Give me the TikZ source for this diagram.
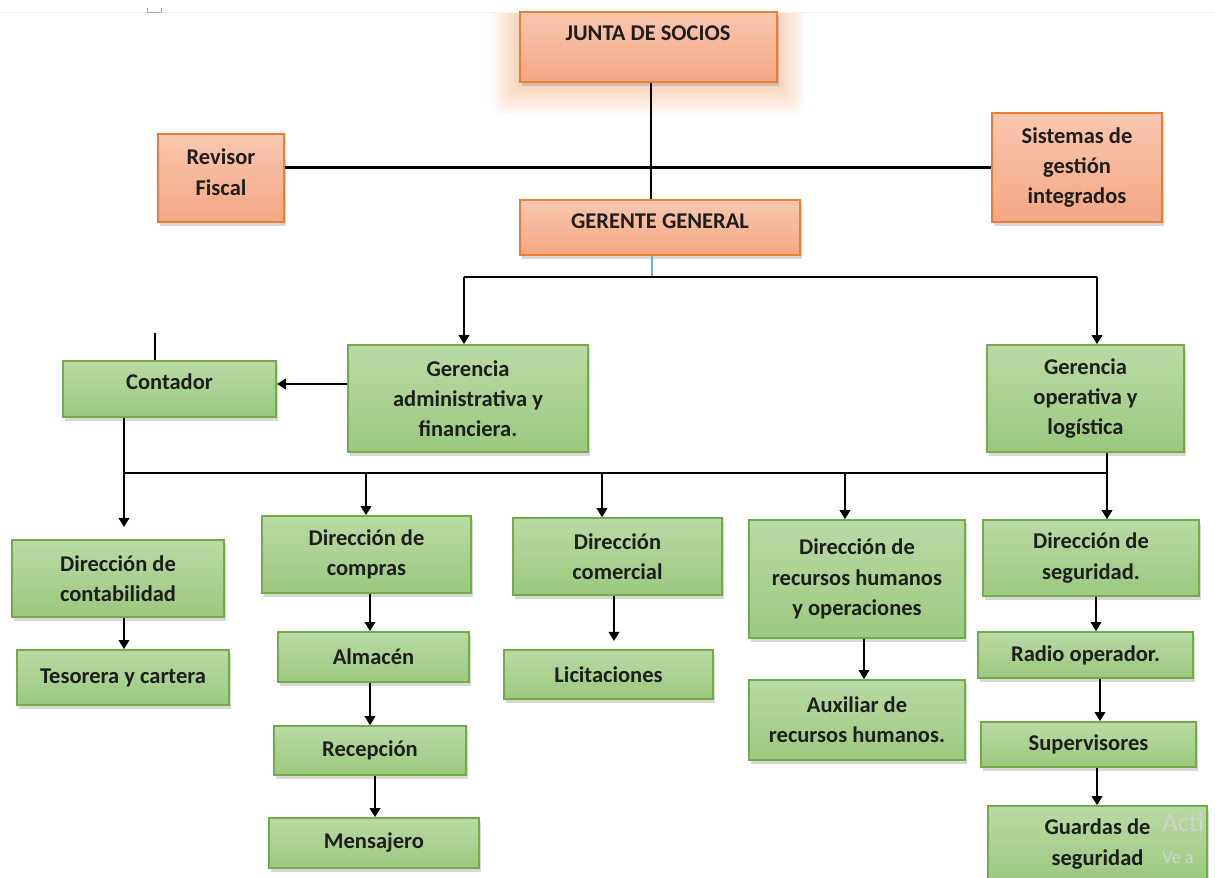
\documentclass[tikz,border=0pt]{standalone}
\usepackage{fontspec}
\setmainfont{Carlito}
\usetikzlibrary{arrows.meta,shadows}
\definecolor{orT}{RGB}{249,200,176}
\definecolor{orB}{RGB}{244,166,130}
\definecolor{orD}{RGB}{237,125,49}
\definecolor{grT}{RGB}{186,218,164}
\definecolor{grB}{RGB}{156,200,126}
\definecolor{grD}{RGB}{112,173,71}
\definecolor{glowc}{RGB}{238,160,100}
\definecolor{txt}{RGB}{30,30,30}
\definecolor{bluel}{RGB}{120,170,220}
\tikzset{
  base/.style={draw, line width=1.2pt, inner sep=0pt, align=center,
    font=\bfseries\fontsize{16}{21.5}\selectfont, text=txt,
    drop shadow={shadow xshift=1.5pt, shadow yshift=-2.5pt, opacity=0.3}},
  obox/.style={base, draw=orD, top color=orT, bottom color=orB},
  gbox/.style={base, draw=grD, top color=grT, bottom color=grB},
  link/.style={line width=1.9pt, black},
  arr/.style={link, -{Triangle[width=7.5pt,length=6.5pt]}},
  wmark/.style={anchor=west, text=gray!35, inner sep=0pt},
}
\newcommand{\bx}[7]{\node[#6, minimum width={(#4-#2)*0.025cm}, minimum height={(#5-#3)*0.025cm}] (#1) at ({(#2+#4)/2},{(#3+#5)/2}) {#7};}
\begin{document}
\begin{tikzpicture}[x=0.025cm, y=-0.025cm]
\clip (0,0) rectangle (1215,878);
\fill[white] (0,0) rectangle (1215,878);
% glow around junta
\foreach \i in {1,...,9}{
  \fill[glowc, opacity=0.055, rounded corners=\i pt] (520-3*\i,12-3*\i) rectangle (777+3*\i,84+3.4*\i);
}
\fill[white] (0,0) rectangle (1215,12);
\draw[gray!10, line width=0.6pt] (0,12) -- (1215,12);
\draw[gray!70, line width=0.6pt] (147,8) -- (147,12) -- (161,12) -- (161,8);

% orange boxes
\bx{junta}{520}{12}{777}{82}{obox}{}
\node[font=\bfseries\fontsize{16}{21.5}\selectfont, text=txt, inner sep=0pt] (juntatxt) at (648,33) {JUNTA DE SOCIOS};
\bx{rev}{158}{134}{284}{222}{obox, text depth=8.5pt}{Revisor\\Fiscal}
\bx{sis}{992}{113}{1162}{222}{obox}{Sistemas de\\gestión\\integrados}
\bx{gg}{520}{200}{800}{255}{obox, text depth=8.5pt}{GERENTE GENERAL}

% green boxes
\bx{ga}{348}{345}{588}{452}{gbox}{Gerencia\\administrativa y\\financiera.}
\bx{go}{987}{345}{1184}{452}{gbox}{Gerencia\\operativa y\\logística}
\bx{cont}{63}{361}{276}{417}{gbox, text depth=10pt}{Contador}
\bx{dc}{12}{540}{224}{617}{gbox}{Dirección de\\contabilidad}
\bx{dcomp}{262}{516}{471}{593}{gbox}{Dirección de\\compras}
\bx{dcom}{513}{518}{722}{595}{gbox}{Dirección\\comercial}
\bx{drh}{749}{520}{965}{638}{gbox}{Dirección de\\recursos humanos\\y operaciones}
\bx{dseg}{983}{520}{1199}{596}{gbox}{Dirección de\\seguridad.}
\bx{tes}{17}{650}{229}{705}{gbox}{Tesorera y cartera}
\bx{alm}{278}{632}{469}{682}{gbox}{Almacén}
\bx{rec}{274}{726}{466}{775}{gbox}{Recepción}
\bx{men}{269}{818}{479}{868}{gbox}{Mensajero}
\bx{lic}{504}{650}{713}{699}{gbox}{Licitaciones}
\bx{aux}{749}{680}{965}{760}{gbox}{Auxiliar de\\recursos humanos.}
\bx{radio}{978}{632}{1193}{678}{gbox}{Radio operador.}
\bx{sup}{981}{722}{1196}{767}{gbox}{Supervisores}
\bx{gua}{988}{806}{1207}{882}{gbox}{Guardas de\\seguridad}

% top connectors
\draw[link] (junta.south -| 651,0) -- (gg.north -| 651,0);
\draw[link] (rev.east |- sis.west) -- (sis.west);
\coordinate (b1) at (652,277);
\coordinate (bL) at (464,277);
\coordinate (bR) at (1097,277);
\draw[bluel, line width=0.8pt] (gg.south -| b1) -- (b1);
\draw[link] (bL) -- (bR);
\draw[arr] (bL) -- (bL |- ga.north);
\draw[arr] (bR) -- (bR |- go.north);
\draw[arr] (ga.west |- 0,384) -- (cont.east |- 0,384);
\draw[black, line width=0.8pt] (cont.north -| 155,0) -- (155,333);

% second bus
\coordinate (cL) at (124,473);
\coordinate (cR) at (1107,473);
\draw[link] (cont.south -| cL) -- (cL) -- (cR) -- (go.south -| cR);
\draw[arr] (cL) -- (124,527);
\draw[arr] (366,473) -- (dcomp.north -| 366,0);
\draw[arr] (602,473) -- (dcom.north -| 602,0);
\draw[arr] (845,473) -- (drh.north -| 845,0);
\draw[arr] (cR) -- (dseg.north -| cR);

% chains
\draw[arr] (dc.south -| 124,0) -- (tes.north -| 124,0);
\draw[arr] (dcomp.south -| 370,0) -- (alm.north -| 370,0);
\draw[arr] (alm.south -| 370,0) -- (rec.north -| 370,0);
\draw[arr] (rec.south -| 375,0) -- (men.north -| 375,0);
\draw[arr] (dcom.south -| 614,0) -- (614,641);
\draw[arr] (drh.south -| 864,0) -- (aux.north -| 864,0);
\draw[arr] (dseg.south -| 1096,0) -- (radio.north -| 1096,0);
\draw[arr] (radio.south -| 1100,0) -- (sup.north -| 1100,0);
\draw[arr] (sup.south -| 1097,0) -- (gua.north -| 1097,0);

% watermark
\node[wmark, font=\fontsize{19}{19}\selectfont] (wm1) at (1162,822) {Acti};
\node[wmark, font=\fontsize{13}{13}\selectfont] (wm2) at (1162,858) {Ve a};
\end{tikzpicture}
\end{document}
